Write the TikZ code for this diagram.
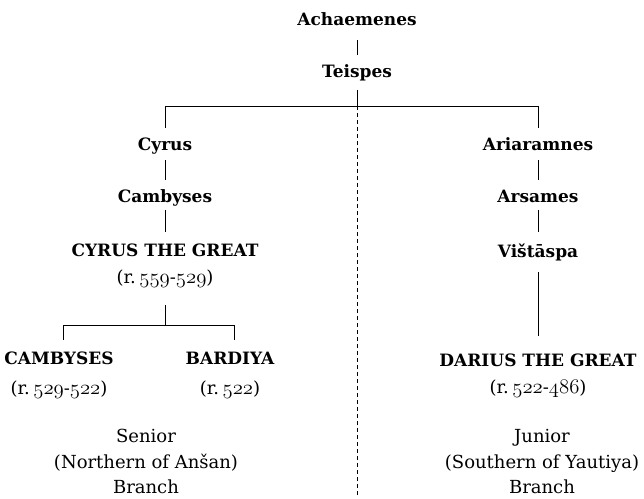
\documentclass[tikz,border=0pt]{standalone}
\usepackage{fontspec}
\setmainfont{DejaVu Serif}
% old-style figures taken from the math italic font, enlarged to the text's x-height
\newcommand{\osf}[1]{{\fontsize{22.5}{24}\selectfont$\mathnormal{#1}$}}
% "r." followed by a narrow space
\newcommand{\rgn}{r.\kern3.5pt}
\begin{document}
\begin{tikzpicture}[x=1pt,y=-1pt,
  lbl/.style={inner sep=0pt, text height=13pt, text depth=0pt,
              font=\fontsize{18}{22}\selectfont},
  who/.style={lbl, font=\fontsize{17}{21}\selectfont\bfseries},
  link/.style={line width=0.9pt},
  split/.style={line width=0.9pt, dashed, dash pattern=on 4pt off 3pt}]
\useasboundingbox (0,0) rectangle (644,498);

% common line
\node[who] (ach)  at (357,19)  {Achaemenes};
\node[who] (teis) at (357,71)  {Teispes};

% senior line
\node[who] (cyrus) at (165,144) {Cyrus};
\node[who] (camb)  at (165,196) {Cambyses};
\node[who] (cyg)   at (165,250) {CYRUS THE GREAT};
\node[lbl] (cygr)  at (165,277) {(\rgn\osf{559}-\osf{529})};
\node[who] (cam2)  at (59,358)  {CAMBYSES};
\node[lbl] (cam2r) at (59,388)  {(\rgn\osf{529}-\osf{522})};
\node[who] (bar)   at (230,358) {BARDIYA};
\node[lbl] (barr)  at (230,388) {(\rgn\osf{522})};
\node[lbl] (sen1)  at (146,436) {Senior};
\node[lbl] (sen2)  at (146,462) {(Northern of Anšan)};
\node[lbl] (sen3)  at (146,487) {Branch};

% junior line
\node[who] (ari)   at (538,144) {Ariaramnes};
\node[who] (ars)   at (538,196) {Arsames};
\node[who] (vis)   at (538,251) {Vištāspa};
\node[who] (dar)   at (538,360) {DARIUS THE GREAT};
\node[lbl] (darr)  at (538,387) {(\rgn\osf{522}-\osf{486})};
\node[lbl] (jun1)  at (542,436) {Junior};
\node[lbl] (jun2)  at (542,462) {(Southern of Yautiya)};
\node[lbl] (jun3)  at (542,487) {Branch};

% descent lines
\draw[link, shorten <=14.5pt, shorten >=9.5pt] (ach.south) -- (teis.north);
\draw[link] ([yshift=-12.5pt]teis.south) -- ++(0,16) coordinate (top);
\draw[link] ([yshift=9.5pt]cyrus.north) |- (top) -| ([yshift=9.5pt]ari.north);
\coordinate (bottom) at (357,498);
\draw[split] (top) -- (bottom);

\draw[link, shorten <=9.5pt, shorten >=9.5pt] (cyrus.south) -- (camb.north);
\draw[link, shorten <=7.5pt, shorten >=11.5pt] (camb.south) -- (cyg.north);
\draw[link] ([yshift=-21.5pt]cygr.south) -- ++(0,20) coordinate (fork);
\draw[link] ([xshift=4pt,yshift=11.5pt]cam2.north) |- (fork)
            -| ([xshift=4pt,yshift=11.5pt]bar.north);

\draw[link, shorten <=9.5pt, shorten >=9.5pt] (ari.south) -- (ars.north);
\draw[link, shorten <=7.5pt, shorten >=12.5pt] (ars.south) -- (vis.north);
\draw[link, shorten <=14.5pt, shorten >=17.5pt] (vis.south) -- (dar.north);
\end{tikzpicture}
\end{document}
